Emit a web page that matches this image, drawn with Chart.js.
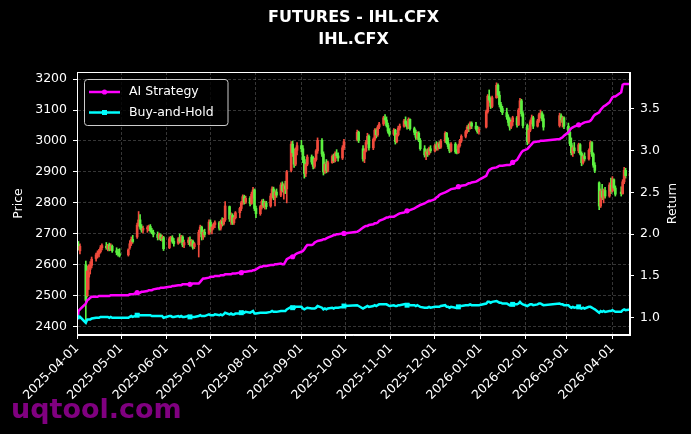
<!DOCTYPE html>
<html>
<head>
<meta charset="utf-8">
<title>FUTURES - IHL.CFX</title>
<script src="https://cdn.jsdelivr.net/npm/chart.js@4.4.1/dist/chart.umd.min.js"></script>
<style>
  html, body { margin: 0; padding: 0; background: #000; }
</style>
</head>
<body>
<canvas id="chart" width="691" height="434"></canvas>
<script>
// trading calendar (CFFEX): weekdays minus exchange holidays
const firstDay = '2025-04-01';
const lastDay = '2026-04-13';
const holidays = [
  '2025-04-04', '2025-05-01', '2025-05-02', '2025-05-05', '2025-06-02',
  '2025-10-01', '2025-10-02', '2025-10-03', '2025-10-06', '2025-10-07', '2025-10-08',
  '2026-01-01', '2026-01-02',
  '2026-02-16', '2026-02-17', '2026-02-18', '2026-02-19', '2026-02-20', '2026-02-23',
  '2026-04-06'
];

const tickLabels = [
  '2025-04-01', '2025-05-01', '2025-06-01', '2025-07-01', '2025-08-01', '2025-09-01', '2025-10-01',
  '2025-11-01', '2025-12-01', '2026-01-01', '2026-02-01', '2026-03-01', '2026-04-01'
];

// daily OHLC, one row per month
const opens = [
  2676,2665,2645,2600,2500,2560,2585,2598,2620,2630,2635,2642,2655,2660,2652,2664,2650,2660,2645,2640,2636,
  2632,2655,2668,2682,2690,2730,2745,2722,2712,2716,2720,2724,2710,2705,2698,2686,2696,2684,2688,
  2655,2684,2688,2676,2670,2684,2676,2690,2664,2672,2680,2666,2676,2658,2665,2705,2722,2690,2705,2700,
  2738,2712,2722,2730,2736,2718,2740,2732,2745,2788,2745,2760,2736,2752,2768,2782,2800,2820,2802,2815,2798,2828,2842,
  2782,2765,2788,2805,2792,2800,2790,2822,2845,2818,2835,2825,2858,2840,2855,2845,2905,2990,2962,2925,2970,
  2985,2975,2940,2895,2925,2948,2932,2918,2940,2968,3002,2958,2900,2925,2905,2930,2950,2936,2960,2952,2945,2978,
  3005,3028,2975,2942,2968,2995,3015,2978,3005,3035,3020,3045,3055,3075,3068,3050,3032,
  3022,3035,2998,3020,3042,3048,3065,3055,3045,3070,3040,3028,3012,3025,3002,2975,2955,2965,2958,2975,
  2968,2985,2975,2990,2980,3000,3025,2995,2982,2968,2990,2965,2962,2985,3000,3015,3030,3045,3040,3058,3048,3040,3030,
  3045,3095,3145,3132,3112,3140,3180,3148,3118,3105,3092,3078,3068,3045,3062,3075,3052,3100,3130,3088,
  3050,2998,3035,3062,3075,3048,3065,3085,3090,3072,3050,3082,3068,3075,
  3048,3028,2992,2962,2978,2968,2988,2960,2930,2950,2942,2970,2995,2958,2922,2865,2790,2838,2818,2840,2822,2858,
  2838,2875,2848,2835,2830,2868,2905,2888
];
const highs = [
  2684,2675,2668,2612,2596,2600,2610,2625,2638,2645,2650,2662,2668,2672,2666,2670,2668,2664,2655,2650,2652,
  2652,2678,2690,2695,2735,2772,2762,2730,2725,2726,2728,2730,2718,2712,2706,2702,2700,2696,2692,
  2690,2692,2694,2685,2688,2700,2695,2694,2680,2688,2690,2682,2680,2672,2712,2728,2725,2712,2715,2745,
  2745,2728,2735,2742,2740,2745,2752,2750,2804,2790,2768,2765,2758,2772,2786,2805,2826,2825,2822,2820,2835,2850,2845,
  2790,2792,2810,2812,2806,2805,2830,2852,2851,2840,2845,2865,2868,2862,2870,2905,2998,3000,2975,2978,2995,
  3002,2985,2950,2930,2955,2955,2950,2945,2972,3010,3008,2965,2932,2940,2935,2955,2958,2965,2972,2962,2985,3005,
  3035,3032,2985,2975,3002,3025,3020,3010,3040,3040,3050,3060,3080,3085,3078,3058,3040,
  3040,3038,3025,3048,3055,3070,3078,3062,3075,3072,3045,3035,3030,3030,3008,2985,2972,2975,2980,2985,
  2990,2998,2995,2998,3005,3030,3028,3010,2990,2995,2995,2972,2990,3005,3020,3035,3050,3055,3062,3062,3060,3048,3045,
  3100,3150,3165,3140,3145,3188,3185,3160,3125,3112,3106,3085,3075,3068,3080,3080,3105,3138,3135,3095,
  3055,3040,3068,3084,3080,3070,3090,3100,3095,3085,3090,3088,3080,3078,
  3058,3035,3010,2985,2995,2993,2992,2965,2955,2962,2975,3000,2998,2962,2930,2868,2845,2860,2845,2850,2865,2880,
  2885,2878,2855,2852,2875,2915,2912,2900
];
const lows = [
  2661,2648,2635,2420,2496,2520,2570,2590,2612,2622,2625,2638,2648,2650,2645,2645,2646,2640,2632,2628,2625,
  2628,2650,2662,2670,2685,2725,2715,2705,2702,2705,2710,2705,2700,2690,2680,2682,2678,2676,2646,
  2652,2676,2670,2660,2666,2670,2672,2658,2655,2665,2660,2660,2650,2652,2625,2700,2680,2682,2690,2698,
  2705,2700,2715,2720,2712,2712,2725,2728,2740,2740,2730,2730,2730,2748,2752,2775,2795,2796,2798,2790,2795,2815,2775,
  2752,2760,2780,2785,2780,2780,2786,2815,2810,2790,2818,2820,2835,2812,2830,2800,2900,2950,2915,2920,2955,
  2965,2930,2880,2885,2920,2925,2910,2912,2935,2960,2950,2890,2895,2897,2900,2928,2930,2932,2945,2935,2940,2972,
  3000,2995,2935,2930,2965,2990,2970,2972,3000,3010,3015,3040,3050,3060,3045,3025,3015,
  3018,2990,2994,3016,3035,3045,3048,3038,3040,3035,3020,3005,3005,2998,2970,2948,2940,2950,2955,2962,
  2965,2970,2970,2975,2976,2995,2990,2975,2962,2965,2960,2958,2960,2980,2995,3010,3025,3030,3038,3040,3035,3025,3022,
  3042,3090,3125,3105,3108,3138,3140,3110,3095,3085,3070,3050,3035,3040,3050,3045,3050,3095,3080,3042,
  2988,2992,3030,3055,3040,3045,3060,3075,3065,3035,3045,3060,3045,3040,
  3020,2985,2955,2950,2960,2962,2955,2920,2925,2935,2938,2965,2950,2915,2898,2778,2785,2810,2800,2815,2818,2830,
  2835,2840,2822,2822,2828,2862,2880,2870
];
const closes = [
  2668,2652,2660,2485,2580,2575,2600,2618,2632,2638,2645,2655,2662,2655,2662,2650,2660,2645,2640,2634,2630,
  2648,2668,2682,2675,2728,2745,2722,2712,2718,2720,2724,2710,2705,2698,2688,2698,2682,2690,2652,
  2684,2688,2676,2668,2684,2676,2690,2664,2672,2680,2666,2676,2656,2668,2705,2722,2690,2705,2698,2738,
  2712,2722,2730,2736,2718,2740,2732,2746,2790,2748,2760,2736,2752,2768,2782,2800,2820,2802,2815,2798,2828,2842,2782,
  2765,2788,2805,2792,2800,2788,2822,2845,2818,2835,2825,2858,2840,2855,2845,2900,2990,2962,2925,2970,2985,
  2975,2940,2895,2925,2948,2932,2918,2940,2968,3002,2958,2900,2925,2905,2930,2950,2936,2960,2952,2945,2978,2998,
  3028,3002,2942,2968,2995,3015,2978,3005,3035,3020,3045,3055,3075,3068,3050,3032,3022,
  3035,2998,3020,3042,3048,3065,3055,3045,3070,3040,3028,3012,3025,3002,2975,2955,2965,2958,2975,2968,
  2985,2975,2990,2980,3000,3025,2995,2982,2968,2990,2965,2962,2985,3000,3015,3030,3045,3040,3058,3048,3040,3030,3038,
  3095,3145,3132,3112,3140,3180,3148,3118,3105,3092,3078,3060,3045,3062,3075,3052,3100,3130,3088,3050,
  2998,3035,3062,3075,3048,3065,3085,3090,3072,3045,3082,3068,3075,3048,
  3028,2992,2962,2978,2968,2988,2960,2930,2950,2942,2970,2995,2958,2922,2905,2790,2838,2818,2840,2822,2858,2838,
  2875,2848,2828,2830,2868,2905,2888,2895
];

// cumulative return of the two strategies
const aiStrategy = [
  1.06,1.08,1.10,1.17,1.21,1.22,1.24,1.25,1.25,1.25,1.26,1.26,1.26,1.26,1.26,1.26,1.27,1.27,1.27,1.27,1.27,
  1.27,1.28,1.28,1.28,1.30,1.29,1.30,1.31,1.31,1.32,1.33,1.33,1.33,1.34,1.35,1.35,1.36,1.36,1.36,
  1.37,1.37,1.38,1.38,1.39,1.39,1.39,1.40,1.40,1.40,1.40,1.40,1.41,1.41,1.41,1.43,1.45,1.47,1.47,1.48,
  1.49,1.49,1.49,1.50,1.50,1.51,1.51,1.51,1.52,1.52,1.52,1.53,1.53,1.53,1.54,1.54,1.55,1.55,1.55,1.56,1.56,1.57,1.57,
  1.58,1.61,1.61,1.62,1.62,1.62,1.63,1.63,1.63,1.64,1.64,1.65,1.64,1.64,1.67,1.70,1.73,1.73,1.74,1.76,1.77,
  1.79,1.80,1.82,1.85,1.87,1.87,1.88,1.90,1.91,1.92,1.93,1.94,1.94,1.95,1.96,1.98,1.99,1.99,2.00,2.00,2.01,2.01,
  2.03,2.04,2.08,2.09,2.10,2.10,2.11,2.12,2.13,2.13,2.14,2.16,2.18,2.19,2.20,2.20,2.21,
  2.21,2.22,2.23,2.24,2.25,2.26,2.27,2.28,2.28,2.29,2.31,2.32,2.33,2.34,2.35,2.37,2.38,2.39,2.40,2.40,
  2.42,2.44,2.45,2.47,2.48,2.50,2.51,2.52,2.53,2.54,2.55,2.56,2.57,2.57,2.58,2.59,2.60,2.61,2.61,2.62,2.63,2.64,2.65,
  2.70,2.74,2.77,2.78,2.79,2.80,2.81,2.82,2.82,2.82,2.83,2.83,2.83,2.84,2.86,2.89,2.92,2.95,2.98,3.00,
  3.02,3.04,3.06,3.08,3.10,3.11,3.11,3.12,3.12,3.12,3.14,3.15,3.16,3.18,
  3.22,3.25,3.27,3.28,3.29,3.31,3.31,3.32,3.33,3.34,3.35,3.36,3.38,3.41,3.43,3.46,3.49,3.51,3.53,3.54,3.58,3.61,
  3.64,3.65,3.65,3.70,3.79,3.80,3.80,3.80
];
const buyHold = [
  1.01,1.00,1.01,0.94,0.98,0.98,0.98,0.99,1.00,1.00,1.00,1.01,1.01,1.01,1.01,1.00,1.01,1.00,1.00,1.00,1.00,
  1.00,1.01,1.02,1.01,1.03,1.04,1.03,1.03,1.03,1.03,1.03,1.03,1.02,1.02,1.02,1.02,1.02,1.02,1.00,
  1.02,1.02,1.01,1.01,1.02,1.01,1.02,1.01,1.01,1.02,1.01,1.01,1.01,1.01,1.02,1.03,1.02,1.02,1.02,1.04,
  1.03,1.03,1.03,1.04,1.03,1.04,1.03,1.04,1.06,1.04,1.05,1.04,1.04,1.05,1.05,1.06,1.07,1.06,1.07,1.06,1.07,1.08,1.05,
  1.05,1.06,1.06,1.06,1.06,1.06,1.07,1.08,1.07,1.07,1.07,1.08,1.08,1.08,1.08,1.10,1.13,1.12,1.11,1.13,1.13,
  1.13,1.11,1.10,1.11,1.12,1.11,1.11,1.11,1.12,1.14,1.12,1.10,1.11,1.10,1.11,1.12,1.11,1.12,1.12,1.12,1.13,1.14,
  1.15,1.14,1.11,1.12,1.13,1.14,1.13,1.14,1.15,1.14,1.15,1.16,1.16,1.16,1.16,1.15,1.14,
  1.15,1.14,1.14,1.15,1.15,1.16,1.16,1.15,1.16,1.15,1.15,1.14,1.15,1.14,1.13,1.12,1.12,1.12,1.13,1.12,
  1.13,1.13,1.13,1.13,1.14,1.15,1.13,1.13,1.12,1.13,1.12,1.12,1.13,1.14,1.14,1.15,1.15,1.15,1.16,1.15,1.15,1.15,1.15,
  1.17,1.19,1.19,1.18,1.19,1.20,1.19,1.18,1.18,1.17,1.17,1.16,1.15,1.16,1.16,1.16,1.17,1.19,1.17,1.16,
  1.14,1.15,1.16,1.16,1.15,1.16,1.17,1.17,1.16,1.15,1.17,1.16,1.16,1.15,
  1.15,1.13,1.12,1.13,1.12,1.13,1.12,1.11,1.12,1.11,1.13,1.13,1.12,1.11,1.10,1.06,1.08,1.07,1.08,1.07,1.08,1.08,
  1.09,1.08,1.07,1.07,1.09,1.10,1.09,1.10
];

const DAY = 86400000;
function toDay(s) {
  const [y, m, d] = s.split('-').map(Number);
  return (Date.UTC(y, m - 1, d) - Date.UTC(2025, 3, 1)) / DAY;
}

// x position of every bar = calendar days since the first session
const tradeDays = [];
for (let d = toDay(firstDay); d <= toDay(lastDay); d++) {
  const dt = new Date(Date.UTC(2025, 3, 1) + d * DAY);
  const wd = dt.getUTCDay();
  const s = dt.toISOString().slice(0, 10);
  if (wd === 0 || wd === 6 || holidays.includes(s)) continue;
  tradeDays.push(d);
}
const tickDays = tickLabels.map(toDay);

const UP = '#f04a3c';
const DOWN = '#5cf040';
const candleColors = closes.map((c, i) => (c >= opens[i] ? UP : DOWN));

const FONT = 'DejaVu Sans';

const decor = {
  id: 'decor',
  beforeDraw(chart) {
    const ctx = chart.ctx;
    ctx.save();
    ctx.fillStyle = '#000';
    ctx.fillRect(0, 0, chart.width, chart.height);
    // watermark
    ctx.fillStyle = '#800080';
    ctx.font = 'bold 27px "' + FONT + '"';
    ctx.textAlign = 'left';
    ctx.textBaseline = 'alphabetic';
    ctx.fillText('uqtool.com', 11, 418);
    ctx.restore();
  },
  afterDraw(chart) {
    const ctx = chart.ctx;
    const a = chart.chartArea;
    ctx.save();

    // frame
    ctx.strokeStyle = '#fff';
    ctx.lineWidth = 1;
    ctx.strokeRect(a.left + 0.5, a.top + 0.5, a.right - a.left - 1, a.bottom - a.top - 1);

    // title
    const cx = (a.left + a.right) / 2;
    ctx.fillStyle = '#fff';
    ctx.textAlign = 'center';
    ctx.textBaseline = 'middle';
    ctx.font = 'bold 16px "' + FONT + '"';
    ctx.fillText('FUTURES - IHL.CFX', cx, 18);
    ctx.fillText('IHL.CFX', cx, 39.5);

    // axis titles
    const cy = (a.top + a.bottom) / 2;
    ctx.font = '12.5px "' + FONT + '"';
    ctx.save();
    ctx.translate(19, cy);
    ctx.rotate(-Math.PI / 2);
    ctx.fillText('Price', 0, 0);
    ctx.restore();
    ctx.save();
    ctx.translate(673, cy);
    ctx.rotate(-Math.PI / 2);
    ctx.fillText('Return', 0, 0);
    ctx.restore();

    // legend
    const bx = 84.5, by = 79.5, bw = 143.5, bh = 46;
    ctx.beginPath();
    ctx.roundRect(bx, by, bw, bh, 3);
    ctx.fillStyle = 'rgba(0,0,0,0.8)';
    ctx.fill();
    ctx.strokeStyle = '#cccccc';
    ctx.lineWidth = 1;
    ctx.stroke();

    const entries = [
      { label: 'AI Strategy', color: '#ff00ff', marker: 'circle', y: 92 },
      { label: 'Buy-and-Hold', color: '#00ffff', marker: 'rect', y: 112.5 }
    ];
    entries.forEach(e => {
      ctx.strokeStyle = e.color;
      ctx.fillStyle = e.color;
      ctx.lineWidth = 2.5;
      ctx.beginPath();
      ctx.moveTo(89, e.y);
      ctx.lineTo(120, e.y);
      ctx.stroke();
      ctx.beginPath();
      if (e.marker === 'circle') {
        ctx.arc(104.5, e.y, 2.6, 0, Math.PI * 2);
      } else {
        ctx.rect(102, e.y - 2.5, 5, 5);
      }
      ctx.fill();
      ctx.fillStyle = '#fff';
      ctx.textAlign = 'left';
      ctx.textBaseline = 'middle';
      ctx.font = '12.5px "' + FONT + '"';
      ctx.fillText(e.label, 129, e.y);
    });

    ctx.restore();
  }
};

const gridLine = {
  color: 'rgba(255,255,255,0.3)',
  lineWidth: 0.7,
  tickColor: '#fff',
  tickLength: 4,
  tickWidth: 1
};

new Chart(document.getElementById('chart'), {
  type: 'bar',
  data: {
    datasets: [
      {
        type: 'line',
        label: 'AI Strategy',
        yAxisID: 'y2',
        data: tradeDays.map((x, i) => ({ x: x, y: aiStrategy[i] })),
        borderColor: '#ff00ff',
        backgroundColor: '#ff00ff',
        borderWidth: 2.5,
        pointStyle: 'circle',
        pointRadius: ctx => (ctx.dataIndex % 25 === 0 ? 2.6 : 0),
        pointBorderWidth: 0,
        tension: 0,
        order: 0
      },
      {
        type: 'line',
        label: 'Buy-and-Hold',
        yAxisID: 'y2',
        data: tradeDays.map((x, i) => ({ x: x, y: buyHold[i] })),
        borderColor: '#00ffff',
        backgroundColor: '#00ffff',
        borderWidth: 2.5,
        pointStyle: 'rect',
        pointRadius: ctx => (ctx.dataIndex % 25 === 0 ? 3.5 : 0),
        pointBorderWidth: 0,
        tension: 0,
        order: 1
      },
      {
        label: 'body',
        yAxisID: 'y',
        data: tradeDays.map((x, i) => ({ x: x, y: [opens[i], closes[i]] })),
        backgroundColor: candleColors,
        barThickness: 2,
        grouped: false,
        borderWidth: 0,
        order: 2
      },
      {
        label: 'wick',
        yAxisID: 'y',
        data: tradeDays.map((x, i) => ({ x: x, y: [lows[i], highs[i]] })),
        backgroundColor: candleColors,
        barThickness: 1,
        grouped: false,
        borderWidth: 0,
        order: 3
      }
    ]
  },
  options: {
    responsive: false,
    animation: false,
    devicePixelRatio: 1,
    layout: { padding: { top: 72, left: 0, right: 0, bottom: 0 } },
    plugins: {
      legend: { display: false },
      title: { display: false },
      tooltip: { enabled: false }
    },
    scales: {
      x: {
        type: 'linear',
        min: 0,
        max: toDay(lastDay),
        offset: false,
        grid: Object.assign({ offset: false }, gridLine),
        border: { display: true, color: '#fff', width: 1, dash: [3, 2] },
        afterBuildTicks: s => { s.ticks = tickDays.map(v => ({ value: v })); },
        ticks: {
          color: '#fff',
          font: { family: FONT, size: 12.5 },
          autoSkip: false,
          maxRotation: 45,
          minRotation: 45,
          padding: 2,
          callback: (v, i) => tickLabels[i]
        },
        afterFit: s => { s.height = 99; s.paddingLeft = 0; s.paddingRight = 0; }
      },
      y: {
        position: 'left',
        min: 2373,
        max: 3223,
        grid: gridLine,
        border: { display: true, color: '#fff', width: 1, dash: [3, 2] },
        ticks: {
          color: '#fff',
          font: { family: FONT, size: 12.5 },
          stepSize: 100,
          includeBounds: false,
          padding: 6,
          callback: v => String(v)
        },
        afterFit: s => { s.width = 77; s.paddingTop = 0; s.paddingBottom = 0; }
      },
      y2: {
        position: 'right',
        min: 0.793,
        max: 3.943,
        grid: Object.assign({}, gridLine, { drawOnChartArea: false }),
        border: { display: true, color: '#fff', width: 1 },
        ticks: {
          color: '#fff',
          font: { family: FONT, size: 12.5 },
          stepSize: 0.5,
          includeBounds: false,
          padding: 6,
          callback: v => v.toFixed(1)
        },
        afterFit: s => { s.width = 61; s.paddingTop = 0; s.paddingBottom = 0; }
      }
    }
  },
  plugins: [decor]
});
</script>
</body>
</html>
